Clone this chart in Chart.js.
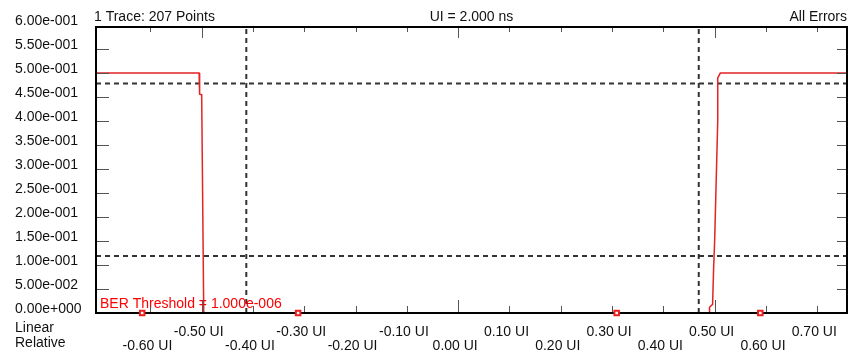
<!DOCTYPE html>
<html lang="en">
<head>
<meta charset="UTF-8" />
<title>BER Bathtub</title>
<script src="https://cdn.jsdelivr.net/npm/chart.js@4.4.0/dist/chart.umd.min.js"></script>
<style>
  body { margin: 0; background: #fff; }
  #wrap { width: 856px; height: 352px; position: relative; }
</style>
</head>
<body>
<div id="wrap"><canvas id="chart"></canvas></div>
<script>
    // trace: x in UI, y in errors (linear)
    var traceX = [-0.706, -0.505, -0.504, -0.500, -0.496, -0.495, 0.489, 0.490, 0.496, 0.498, 0.500, 0.506, 0.506, 0.511, 0.758];
    var traceY = [0.500, 0.500, 0.456, 0.455, 0.004, 0.000, 0.000, 0.012, 0.018, 0.094, 0.150, 0.400, 0.490, 0.500, 0.500];

    // square markers sitting on the zero line
    var markerX = [-0.616, -0.312, 0.309, 0.589];
    var markerY = [0, 0, 0, 0];

    // dashed cursor lines
    var cursorX = [-0.413, 0.469];
    var cursorY = [0.478, 0.119];

    var xRange = [-0.706, 0.758];
    var yRange = [0, 0.596];
    var xTicks = [-0.6, -0.5, -0.4, -0.3, -0.2, -0.1, 0, 0.1, 0.2, 0.3, 0.4, 0.5, 0.6, 0.7];
    var yTicks = [0, 0.05, 0.1, 0.15, 0.2, 0.25, 0.3, 0.35, 0.4, 0.45, 0.5, 0.55, 0.6];
    var uiBounds = [-0.5, 0, 0.5];

    var FONT = '"Liberation Sans", Arial, sans-serif';

    function expLabel(v) {
        var p = v.toExponential(2).split("e");
        var e = parseInt(p[1], 10);
        var s = String(Math.abs(e));
        while (s.length < 3) s = "0" + s;
        return p[0] + "e" + (e < 0 ? "-" : "+") + s;
    }

    function pairs(xs, ys) {
        var out = [];
        for (var i = 0; i < xs.length; i++) out.push({ x: xs[i], y: ys[i] });
        return out;
    }

    var datasets = [{
        label: "markers",
        data: pairs(markerX, markerY),
        pointStyle: "rect",
        pointRadius: 3.2,
        borderColor: "#ee1c1c",
        backgroundColor: "#fff",
        borderWidth: 2,
        showLine: false,
        clip: false,
        order: 1
    }, {
        label: "trace",
        data: pairs(traceX, traceY),
        borderColor: "#e42323",
        borderWidth: 1.5,
        pointRadius: 0,
        showLine: true,
        tension: 0,
        order: 2
    }];
    cursorX.forEach(function (v) {
        datasets.push({
            data: [{ x: v, y: yRange[0] }, { x: v, y: yRange[1] }],
            borderColor: "#333", borderWidth: 2, borderDash: [5, 4],
            pointRadius: 0, showLine: true, order: 3
        });
    });
    cursorY.forEach(function (v) {
        datasets.push({
            data: [{ x: xRange[0], y: v }, { x: xRange[1], y: v }],
            borderColor: "#333", borderWidth: 2, borderDash: [5, 4],
            pointRadius: 0, showLine: true, order: 3
        });
    });

    // frame + inner tick marks, drawn right after the trace so the markers stay on top
    var frame = {
        id: "frame",
        afterDatasetDraw: function (chart, args) {
            if (args.index !== 1) return;
            var a = chart.chartArea, ctx = chart.ctx;
            var xs = chart.scales.x, ys = chart.scales.y;
            ctx.save();
            ctx.fillStyle = "#f00";
            ctx.font = "14px " + FONT;
            ctx.textBaseline = "alphabetic";
            ctx.fillText("BER Threshold = 1.000e-006", a.left + 4, a.bottom - 5);

            ctx.strokeStyle = "#555";
            ctx.lineWidth = 1;
            ctx.beginPath();
            xTicks.forEach(function (v) {
                var px = Math.round(xs.getPixelForValue(v)) + 0.5;
                var len = uiBounds.indexOf(v) >= 0 ? 12 : 6;
                ctx.moveTo(px, a.bottom); ctx.lineTo(px, a.bottom - len - 1);
                ctx.moveTo(px, a.top); ctx.lineTo(px, a.top + len - 1);
            });
            yTicks.forEach(function (v) {
                if (v > yRange[1]) return;
                var py = Math.round(ys.getPixelForValue(v)) + 0.5;
                ctx.moveTo(a.left, py); ctx.lineTo(a.left + 13, py);
                ctx.moveTo(a.right, py); ctx.lineTo(a.right - 10, py);
            });
            ctx.stroke();

            ctx.strokeStyle = "#000";
            ctx.lineWidth = 2;
            ctx.strokeRect(a.left, a.top, a.right - a.left, a.bottom - a.top);
            ctx.restore();
        },
        afterDraw: function (chart) {
            var a = chart.chartArea, ctx = chart.ctx;
            ctx.save();
            ctx.fillStyle = "#111";
            ctx.font = "14px " + FONT;
            ctx.textBaseline = "alphabetic";
            ctx.textAlign = "left";
            ctx.fillText("1 Trace: 207 Points", a.left - 2, 21);
            ctx.fillText("Linear", 15, 332);
            ctx.fillText("Relative", 15, 347);
            ctx.textAlign = "center";
            ctx.fillText("UI = 2.000 ns", (a.left + a.right) / 2, 21);
            ctx.textAlign = "right";
            ctx.fillText("All Errors", a.right, 21);
            ctx.restore();
        }
    };

    Chart.defaults.font.family = FONT;
    Chart.defaults.font.size = 14;
    Chart.defaults.color = "#111";

    new Chart("chart", {
        type: "scatter",
        data: { datasets: datasets },
        options: {
            responsive: true,
            maintainAspectRatio: false,
            animation: false,
            layout: { padding: { top: 27, left: 15, right: 9, bottom: 0 } },
            plugins: { legend: { display: false }, tooltip: { enabled: false } },
            scales: {
                x: {
                    type: "linear",
                    min: xRange[0],
                    max: xRange[1],
                    grid: { display: false },
                    border: { display: false },
                    afterBuildTicks: function (s) {
                        s.ticks = xTicks.map(function (v) { return { value: v }; });
                    },
                    afterFit: function (s) { s.height = 39; },
                    ticks: {
                        autoSkip: false,
                        maxRotation: 0,
                        minRotation: 0,
                        padding: 4,
                        labelOffset: -3,
                        font: { size: 14, lineHeight: 1.0 },
                        callback: function (v) {
                            var s = Number(v).toFixed(2) + " UI";
                            return Math.abs(Math.round(v * 10)) % 2 === 1 ? [s, ""] : ["", s];
                        }
                    }
                },
                y: {
                    min: yRange[0],
                    max: yRange[1],
                    grid: { display: false },
                    border: { display: false },
                    afterBuildTicks: function (s) {
                        s.ticks = yTicks.map(function (v) { return { value: v }; });
                    },
                    afterFit: function (s) { s.width = 81; },
                    ticks: {
                        autoSkip: false,
                        crossAlign: "far",
                        labelOffset: -4,
                        callback: function (v) { return expLabel(Number(v)); }
                    }
                }
            }
        },
        plugins: [frame]
    });
</script>
</body>
</html>
